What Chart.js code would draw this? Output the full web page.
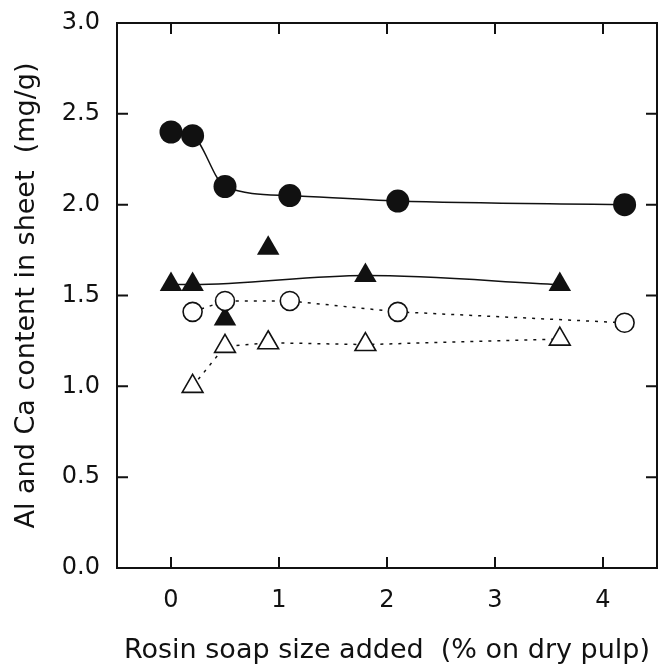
<!DOCTYPE html>
<html lang="en">
<head>
    <meta charset="UTF-8">
    <title>Al and Ca content vs rosin soap size</title>
    <script src="https://cdn.jsdelivr.net/npm/chart.js"></script>
    <style>
        body {
            margin: 0;
            background-color: #ffffff;
        }
        canvas {
            display: block;
        }
    </style>
</head>
<body>
    <canvas id="chart" width="659" height="667"></canvas>

    <script>
        // values
        const filledCircleX = [0, 0.2, 0.5, 1.1, 2.1, 4.2];
        const filledCircleY = [2.40, 2.38, 2.10, 2.05, 2.02, 2.00];

        const filledTriLineX = [0, 0.2, 1.8, 3.6];
        const filledTriLineY = [1.56, 1.56, 1.61, 1.56];
        const filledTriLooseX = [0.5, 0.9];
        const filledTriLooseY = [1.37, 1.76];

        const openCircleX = [0.2, 0.5, 1.1, 2.1, 4.2];
        const openCircleY = [1.41, 1.47, 1.47, 1.41, 1.35];

        const openTriX = [0.2, 0.5, 0.9, 1.8, 3.6];
        const openTriY = [1.00, 1.22, 1.24, 1.23, 1.26];

        const xTicks = [0, 1, 2, 3, 4];
        const yTicks = [0, 0.5, 1.0, 1.5, 2.0, 2.5, 3.0];

        const xTitle = 'Rosin soap size added  (% on dry pulp)';
        const yTitle = 'Al and Ca content in sheet  (mg/g)';

        const ink = '#111';
        const fontFamily = '"DejaVu Sans", sans-serif';
        const TICK = 11;

        const pts = (xs, ys) => xs.map((x, i) => ({ x: x, y: ys[i] }));

        // scales would otherwise push the plot area in to make room for tick label padding
        const noScalePadding = (scale) => {
            scale.paddingTop = 0;
            scale.paddingBottom = 0;
            scale.paddingLeft = 0;
            scale.paddingRight = 0;
        };

        // box round the plot area with inward tick marks on all four sides
        const framePlugin = {
            id: 'frame',
            beforeDatasetsDraw(chart) {
                const { ctx, chartArea: a, scales } = chart;
                ctx.save();
                ctx.strokeStyle = ink;
                ctx.lineWidth = 2;
                ctx.strokeRect(a.left, a.top, a.right - a.left, a.bottom - a.top);
                ctx.beginPath();
                xTicks.forEach(v => {
                    const px = scales.x.getPixelForValue(v);
                    ctx.moveTo(px, a.bottom);
                    ctx.lineTo(px, a.bottom - TICK);
                    ctx.moveTo(px, a.top);
                    ctx.lineTo(px, a.top + TICK);
                });
                yTicks.forEach(v => {
                    const py = scales.y.getPixelForValue(v);
                    ctx.moveTo(a.left, py);
                    ctx.lineTo(a.left + TICK, py);
                    ctx.moveTo(a.right, py);
                    ctx.lineTo(a.right - TICK, py);
                });
                ctx.stroke();
                ctx.restore();
            }
        };

        const ctx = document.getElementById('chart').getContext('2d');
        const chart = new Chart(ctx, {
            type: 'scatter',
            data: {
                datasets: [
                    {
                        label: 'open circles',
                        data: pts(openCircleX, openCircleY),
                        showLine: true,
                        tension: 0,
                        borderColor: ink,
                        borderWidth: 1.5,
                        borderDash: [3, 6],
                        pointStyle: 'circle',
                        pointRadius: 9.5,
                        pointBackgroundColor: '#fff',
                        pointBorderColor: ink,
                        pointBorderWidth: 1.6,
                        order: 0
                    },
                    {
                        label: 'open triangles',
                        data: pts(openTriX, openTriY),
                        showLine: true,
                        tension: 0,
                        borderColor: ink,
                        borderWidth: 1.5,
                        borderDash: [3, 6],
                        pointStyle: 'triangle',
                        pointRadius: 12,
                        pointBackgroundColor: '#fff',
                        pointBorderColor: ink,
                        pointBorderWidth: 1.6,
                        order: 1
                    },
                    {
                        label: 'filled circles',
                        data: pts(filledCircleX, filledCircleY),
                        showLine: true,
                        cubicInterpolationMode: 'monotone',
                        borderColor: ink,
                        borderWidth: 1.5,
                        pointStyle: 'circle',
                        pointRadius: 11.5,
                        pointBackgroundColor: ink,
                        pointBorderColor: ink,
                        pointBorderWidth: 0,
                        order: 2
                    },
                    {
                        label: 'filled triangles',
                        data: pts(filledTriLineX, filledTriLineY),
                        showLine: true,
                        cubicInterpolationMode: 'monotone',
                        borderColor: ink,
                        borderWidth: 1.5,
                        pointStyle: 'triangle',
                        pointRadius: 13,
                        pointBackgroundColor: ink,
                        pointBorderColor: ink,
                        pointBorderWidth: 0,
                        order: 3
                    },
                    {
                        label: 'filled triangles (off line)',
                        data: pts(filledTriLooseX, filledTriLooseY),
                        showLine: false,
                        pointStyle: 'triangle',
                        pointRadius: 13,
                        pointBackgroundColor: ink,
                        pointBorderColor: ink,
                        pointBorderWidth: 0,
                        order: 4
                    }
                ]
            },
            options: {
                responsive: false,
                animation: false,
                devicePixelRatio: 1,
                layout: {
                    autoPadding: false,
                    padding: { top: 23, right: 2, left: 0, bottom: 0 }
                },
                plugins: {
                    legend: { display: false },
                    tooltip: { enabled: false }
                },
                scales: {
                    x: {
                        type: 'linear',
                        min: -0.5,
                        max: 4.5,
                        afterBuildTicks: (scale) => {
                            scale.ticks = xTicks.map(v => ({ value: v }));
                        },
                        afterFit: (scale) => {
                            scale.height = 99;
                            noScalePadding(scale);
                        },
                        grid: { display: false, drawTicks: false },
                        border: { display: false },
                        ticks: {
                            color: ink,
                            padding: 18,
                            maxRotation: 0,
                            font: { family: fontFamily, size: 24 },
                            callback: (value) => String(value)
                        },
                        title: {
                            display: true,
                            text: xTitle,
                            color: ink,
                            padding: { top: 0, bottom: 0 },
                            font: { family: fontFamily, size: 27 }
                        }
                    },
                    y: {
                        type: 'linear',
                        min: 0,
                        max: 3,
                        afterBuildTicks: (scale) => {
                            scale.ticks = yTicks.map(v => ({ value: v }));
                        },
                        afterFit: (scale) => {
                            scale.width = 117;
                            noScalePadding(scale);
                        },
                        grid: { display: false, drawTicks: false },
                        border: { display: false },
                        ticks: {
                            color: ink,
                            padding: 17,
                            font: { family: fontFamily, size: 24 },
                            callback: (value) => Number(value).toFixed(1)
                        },
                        title: {
                            display: true,
                            text: yTitle,
                            color: ink,
                            padding: { top: 11, bottom: 0 },
                            font: { family: fontFamily, size: 27 }
                        }
                    }
                }
            },
            plugins: [framePlugin]
        });
    </script>
</body>
</html>
